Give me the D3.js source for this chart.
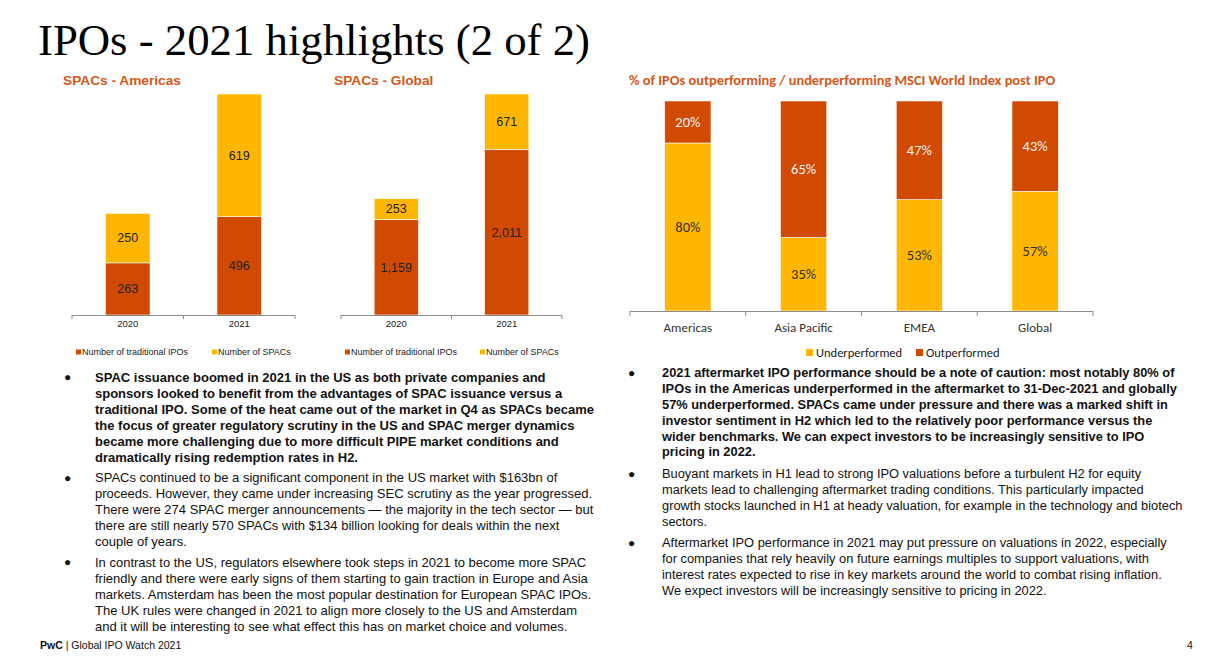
<!DOCTYPE html>
<html>
<head>
<meta charset="utf-8">
<script src="https://cdn.jsdelivr.net/npm/d3@7"></script>
<style>
    body { margin: 0; background: #fff; }
    svg text { font-family: "Liberation Sans", Arial, sans-serif; }
</style>
</head>
<body>
<div id="page"></div>
<script>
"use strict"

// chart data
var years = ["2020", "2021"]
var amerTraditional = [263, 496]
var amerSpacs = [250, 619]
var globTraditional = [1159, 2011]
var globSpacs = [253, 671]

var regions = ["Americas", "Asia Pacific", "EMEA", "Global"]
var underperformed = [80, 35, 53, 57]
var outperformed = [20, 65, 47, 43]

var spacLegend = ["Number of traditional IPOs", "Number of SPACs"]
var perfLegend = ["Underperformed", "Outperformed"]

// page texts
var pageTitle = "IPOs - 2021 highlights (2 of 2)"
var leftNotes = [
    { bold: true, lines: [
        "SPAC issuance boomed in 2021 in the US as both private companies and",
        "sponsors looked to benefit from the advantages of SPAC issuance versus a",
        "traditional IPO. Some of the heat came out of the market in Q4 as SPACs became",
        "the focus of greater regulatory scrutiny in the US and SPAC merger dynamics",
        "became more challenging due to more difficult PIPE market conditions and",
        "dramatically rising redemption rates in H2."] },
    { bold: false, lines: [
        "SPACs continued to be a significant component in the US market with $163bn of",
        "proceeds. However, they came under increasing SEC scrutiny as the year progressed.",
        "There were 274 SPAC merger announcements \u2014 the majority in the tech sector \u2014 but",
        "there are still nearly 570 SPACs with $134 billion looking for deals within the next",
        "couple of years."] },
    { bold: false, lines: [
        "In contrast to the US, regulators elsewhere took steps in 2021 to become more SPAC",
        "friendly and there were early signs of them starting to gain traction in Europe and Asia",
        "markets. Amsterdam has been the most popular destination for European SPAC IPOs.",
        "The UK rules were changed in 2021 to align more closely to the US and Amsterdam",
        "and it will be interesting to see what effect this has on market choice and volumes."] }
]
var rightNotes = [
    { bold: true, lines: [
        "2021 aftermarket IPO performance should be a note of caution: most notably 80% of",
        "IPOs in the Americas underperformed in the aftermarket to 31-Dec-2021 and globally",
        "57% underperformed. SPACs came under pressure and there was a marked shift in",
        "investor sentiment in H2 which led to the relatively poor performance versus the",
        "wider benchmarks. We can expect investors to be increasingly sensitive to IPO",
        "pricing in 2022."] },
    { bold: false, lines: [
        "Buoyant markets in H1 lead to strong IPO valuations before a turbulent H2 for equity",
        "markets lead to challenging aftermarket trading conditions. This particularly impacted",
        "growth stocks launched in H1 at heady valuation, for example in the technology and biotech",
        "sectors."] },
    { bold: false, lines: [
        "Aftermarket IPO performance in 2021 may put pressure on valuations in 2022, especially",
        "for companies that rely heavily on future earnings multiples to support valuations, with",
        "interest rates expected to rise in key markets around the world to combat rising inflation.",
        "We expect investors will be increasingly sensitive to pricing in 2022."] }
]

var ORANGE = "#D04A02"
var YELLOW = "#FFB600"
var TITLE_ORANGE = "#D4571A"
var calibri = "Carlito, Lato, 'Open Sans', sans-serif"

var svg = d3.select("#page").append("svg")
    .attr("width", 1232)
    .attr("height", 671)

svg.append("text")
    .attr("x", 38)
    .attr("y", 55)
    .style("font-family", "Georgia, 'Liberation Serif', serif")
    .attr("font-size", 44)
    .attr("textLength", 552)
    .attr("lengthAdjust", "spacingAndGlyphs")
    .attr("fill", "#000")
    .text(pageTitle)


// stacked SPAC bars, traditional IPOs at the bottom
function draw_spac(title, titleX, x0, x1, traditional, spacs, legendX) {
    var g = svg.append("g")
    var base = 315, top = 94

    g.append("text")
        .attr("x", titleX).attr("y", 85)
        .attr("font-size", 13.7).attr("font-weight", "bold")
        .attr("fill", TITLE_ORANGE)
        .text(title)

    var x = d3.scaleBand()
        .domain(years)
        .range([x0, x1])
        .paddingInner(0.6)
        .paddingOuter(0.3)

    var totals = years.map(function (d, i) { return traditional[i] + spacs[i] })
    var y = d3.scaleLinear()
        .domain([0, d3.max(totals)])
        .range([base, top])

    var rows = years.map(function (d, i) {
        return { year: d, traditional: traditional[i], spacs: spacs[i] }
    })
    var series = d3.stack().keys(["traditional", "spacs"])(rows)
    var colors = [ORANGE, YELLOW]
    var fmt = d3.format(",")

    series.forEach(function (s, k) {
        g.selectAll("rect.s" + k)
            .data(s)
            .enter()
            .append("rect")
            .attr("class", "s" + k)
            .attr("x", function (d) { return x(d.data.year) })
            .attr("width", x.bandwidth())
            .attr("y", function (d) { return y(d[1]) })
            .attr("height", function (d) { return y(d[0]) - y(d[1]) })
            .attr("fill", colors[k])
            .attr("stroke", "#fff")
            .attr("stroke-width", 0.6)

        g.selectAll("text.l" + k)
            .data(s)
            .enter()
            .append("text")
            .attr("class", "l" + k)
            .attr("x", function (d) { return x(d.data.year) + x.bandwidth() / 2 })
            .attr("y", function (d) { return (y(d[0]) + y(d[1])) / 2 })
            .attr("dy", "0.35em")
            .attr("text-anchor", "middle")
            .attr("font-size", 12.5)
            .attr("fill", "#222")
            .text(function (d) { return fmt(d[1] - d[0]) })
    })

    // axis with ticks between categories
    var edges = [x0].concat(years.map(function (d) { return x(d) + x.bandwidth() / 2 + x.step() / 2 }))
    g.append("line")
        .attr("x1", x0).attr("x2", x1)
        .attr("y1", base + 0.5).attr("y2", base + 0.5)
        .attr("stroke", "#8c8c8c")
    g.selectAll("line.tick")
        .data(edges)
        .enter()
        .append("line")
        .attr("class", "tick")
        .attr("x1", function (d) { return d }).attr("x2", function (d) { return d })
        .attr("y1", base).attr("y2", base + 4)
        .attr("stroke", "#8c8c8c")

    g.selectAll("text.cat")
        .data(years)
        .enter()
        .append("text")
        .attr("class", "cat")
        .attr("x", function (d) { return x(d) + x.bandwidth() / 2 })
        .attr("y", base + 9)
        .attr("dy", "0.35em")
        .attr("text-anchor", "middle")
        .attr("font-size", 9.5)
        .attr("fill", "#222")
        .text(function (d) { return d })

    // legend
    var lg = g.selectAll("g.leg")
        .data(spacLegend)
        .enter()
        .append("g")
        .attr("transform", function (d, i) { return "translate(" + legendX[i] + ",352)" })
    lg.append("rect")
        .attr("x", 0).attr("y", -2.5)
        .attr("width", 5).attr("height", 5)
        .attr("fill", function (d, i) { return colors[i] })
    lg.append("text")
        .attr("x", 6)
        .attr("dy", "0.35em")
        .attr("font-size", 9)
        .attr("fill", "#222")
        .text(function (d) { return d })
}

draw_spac("SPACs - Americas", 63, 72, 295, amerTraditional, amerSpacs, [76, 212])
draw_spac("SPACs - Global", 334, 341, 562, globTraditional, globSpacs, [345, 480])


// 100% stacked performance chart
function draw_perf() {
    var g = svg.append("g")
    var base = 311, top = 101
    var x0 = 630, x1 = 1093

    g.append("text")
        .attr("x", 629).attr("y", 85)
        .style("font-family", calibri)
        .attr("font-size", 14.4).attr("font-weight", "bold")
        .attr("fill", TITLE_ORANGE)
        .text("% of IPOs outperforming / underperforming MSCI World Index post IPO")

    var x = d3.scaleBand()
        .domain(regions)
        .range([x0, x1])
        .paddingInner(0.6)
        .paddingOuter(0.3)
    var y = d3.scaleLinear().domain([0, 100]).range([base, top])

    var rows = regions.map(function (d, i) {
        return { region: d, under: underperformed[i], out: outperformed[i] }
    })
    var series = d3.stack().keys(["under", "out"])(rows)
    var colors = [YELLOW, ORANGE]
    var labelColors = ["#333", "#F4F4F4"]

    series.forEach(function (s, k) {
        g.selectAll("rect.s" + k)
            .data(s)
            .enter()
            .append("rect")
            .attr("class", "s" + k)
            .attr("x", function (d) { return x(d.data.region) })
            .attr("width", x.bandwidth())
            .attr("y", function (d) { return y(d[1]) })
            .attr("height", function (d) { return y(d[0]) - y(d[1]) })
            .attr("fill", colors[k])
            .attr("stroke", "#fff")
            .attr("stroke-width", 0.6)

        g.selectAll("text.l" + k)
            .data(s)
            .enter()
            .append("text")
            .attr("class", "l" + k)
            .attr("x", function (d) { return x(d.data.region) + x.bandwidth() / 2 })
            .attr("y", function (d) { return (y(d[0]) + y(d[1])) / 2 })
            .attr("dy", "0.35em")
            .attr("text-anchor", "middle")
            .style("font-family", calibri)
            .attr("font-size", 14.5)
            .attr("fill", labelColors[k])
            .text(function (d) { return (d[1] - d[0]) + "%" })
    })

    var edges = [x0].concat(regions.map(function (d) { return x(d) + x.bandwidth() / 2 + x.step() / 2 }))
    g.append("line")
        .attr("x1", x0).attr("x2", x1)
        .attr("y1", base + 0.5).attr("y2", base + 0.5)
        .attr("stroke", "#8c8c8c")
    g.selectAll("line.tick")
        .data(edges)
        .enter()
        .append("line")
        .attr("class", "tick")
        .attr("x1", function (d) { return d }).attr("x2", function (d) { return d })
        .attr("y1", base).attr("y2", base + 5)
        .attr("stroke", "#8c8c8c")

    g.selectAll("text.cat")
        .data(regions)
        .enter()
        .append("text")
        .attr("class", "cat")
        .attr("x", function (d) { return x(d) + x.bandwidth() / 2 })
        .attr("y", base + 16)
        .attr("dy", "0.35em")
        .attr("text-anchor", "middle")
        .style("font-family", calibri)
        .attr("font-size", 13)
        .attr("fill", "#333")
        .text(function (d) { return d })

    var legendX = [806, 916]
    var legendColors = [YELLOW, ORANGE]
    var lg = g.selectAll("g.leg")
        .data(perfLegend)
        .enter()
        .append("g")
        .attr("transform", function (d, i) { return "translate(" + legendX[i] + ",353)" })
    lg.append("rect")
        .attr("x", 0).attr("y", -4)
        .attr("width", 7).attr("height", 7)
        .attr("fill", function (d, i) { return legendColors[i] })
    lg.append("text")
        .attr("x", 10)
        .attr("dy", "0.35em")
        .style("font-family", calibri)
        .attr("font-size", 12.5)
        .attr("fill", "#222")
        .text(function (d) { return d })
}

draw_perf()


// bullet paragraphs
function draw_notes(notes, bulletX, textX, startY, lineH, gap, size) {
    var yy = startY
    notes.forEach(function (p) {
        svg.append("text")
            .attr("x", bulletX).attr("y", yy)
            .attr("dy", "0.35em")
            .attr("font-size", 12)
            .attr("fill", "#111")
            .text("\u25CF")
        p.lines.forEach(function (line) {
            svg.append("text")
                .attr("x", textX).attr("y", yy)
                .attr("dy", "0.35em")
                .attr("font-size", size)
                .attr("font-weight", p.bold ? "bold" : "normal")
                .attr("fill", "#111")
                .text(line)
            yy += lineH
        })
        yy += gap
    })
}

draw_notes(leftNotes, 64, 95, 377, 16, 4.5, 13)
draw_notes(rightNotes, 628, 662, 373, 15.8, 6, 12.85)

// footer
var foot = svg.append("text")
    .attr("x", 40).attr("y", 645)
    .attr("dy", "0.35em")
    .attr("font-size", 10.5)
    .attr("fill", "#111")
foot.append("tspan").attr("font-weight", "bold").text("PwC")
foot.append("tspan").text(" | Global IPO Watch 2021")

svg.append("text")
    .attr("x", 1187).attr("y", 645)
    .attr("dy", "0.35em")
    .attr("font-size", 10.5)
    .attr("fill", "#111")
    .text("4")
</script>
</body>
</html>
